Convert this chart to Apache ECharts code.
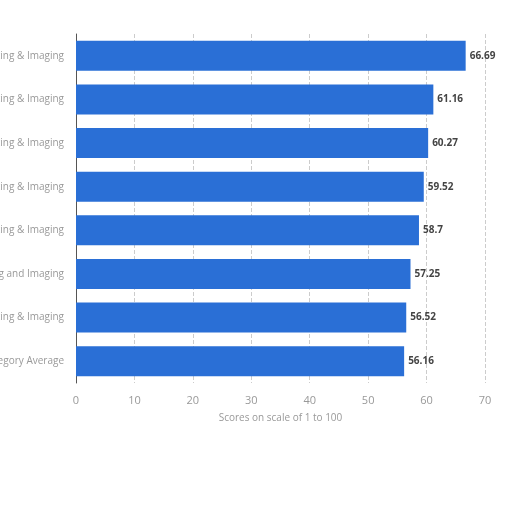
<!doctype html>
<html>
    <head>
        <meta charset="utf-8">
        <title>Scores - Printing & Imaging</title>
        <style>
            html, body { margin: 0; padding: 0; background: #fff; }
            #main { width: 512px; height: 512px; }
        </style>
    </head>
    <body>
        <div id="main"></div>
        <script src="https://cdn.jsdelivr.net/npm/echarts@6/dist/echarts.min.js"></script>
        <script>
            // top to bottom (labels are cut off at the left edge)
            var categories = [
                'Brother Printing & Imaging',
                'Canon Printing & Imaging',
                'Epson Printing & Imaging',
                'Xerox Printing & Imaging',
                'Ricoh Printing & Imaging',
                'Lexmark Printing and Imaging',
                'HP Printing & Imaging',
                'Category Average'
            ];
            var scores = [66.69, 61.16, 60.27, 59.52, 58.7, 57.25, 56.52, 56.16];
            var axisTicks = [0, 10, 20, 30, 40, 50, 60, 70];

            var chart = echarts.init(document.getElementById('main'));

            chart.setOption({
                animation: false,
                grid: {
                    left: 76,
                    right: 27,
                    top: 34,
                    bottom: 129,
                    containLabel: false,
                    outerBoundsMode: 'none'
                },
                xAxis: {
                    type: 'value',
                    min: axisTicks[0],
                    max: axisTicks[axisTicks.length - 1],
                    interval: 10,
                    name: 'Scores on scale of 1 to 100',
                    nameLocation: 'middle',
                    nameGap: 30,
                    nameTextStyle: { color: '#999', fontSize: 10, fontFamily: 'Open Sans' },
                    axisLine: { show: false },
                    axisTick: { show: false },
                    axisLabel: { color: '#999', fontSize: 11, fontFamily: 'Open Sans', margin: 12 },
                    splitLine: { show: true, lineStyle: { color: '#ccc', type: 'dashed', width: 1 } }
                },
                yAxis: {
                    type: 'category',
                    inverse: true,
                    data: categories,
                    axisLine: { show: true, lineStyle: { color: '#555', width: 1 } },
                    axisTick: { show: false },
                    axisLabel: { color: '#999', fontSize: 10, fontFamily: 'Open Sans', margin: 12 }
                },
                series: [{
                    type: 'bar',
                    data: scores,
                    barWidth: '69%',
                    itemStyle: { color: '#2a6fd6' },
                    label: {
                        show: true,
                        position: 'right',
                        distance: 4,
                        color: '#444',
                        fontSize: 10,
                        fontWeight: 'bold',
                        fontFamily: 'Open Sans'
                    }
                }]
            });

            window.onresize = chart.resize;
        </script>
    </body>
</html>
